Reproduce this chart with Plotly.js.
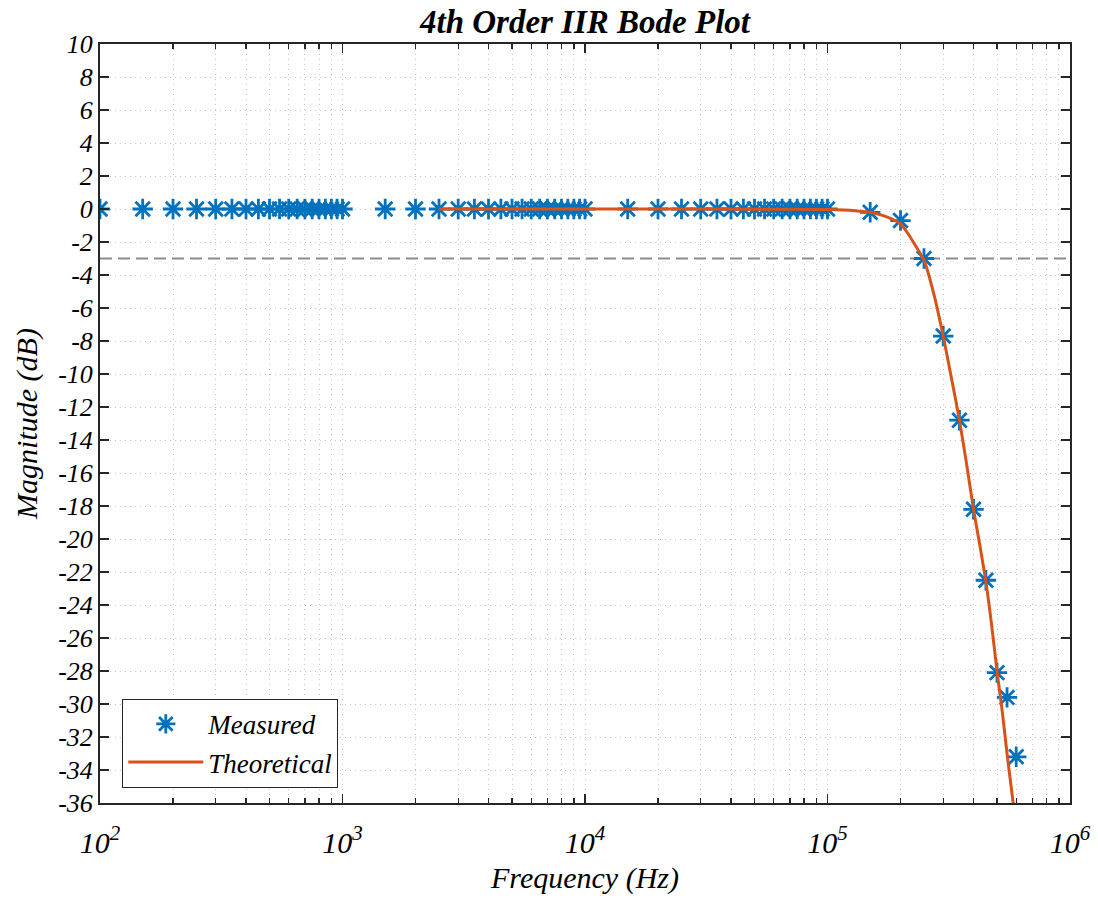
<!DOCTYPE html>
<html>
<head>
<meta charset="utf-8">
<script src="https://cdn.plot.ly/plotly-3.0.1.min.js"></script>
<style>html,body{margin:0;padding:0;background:#fff;}#chart{width:1098px;height:903px;}</style>
</head>
<body>
<div id="chart"></div>
<script>
// ---- Data ----
const measuredFreq = [
  100,150,200,250,300,350,400,450,500,550,600,650,700,750,800,850,900,950,1000,
  1500,2000,2500,3000,3500,4000,4500,5000,5500,6000,6500,7000,7500,8000,8500,9000,9500,10000,
  15000,20000,25000,30000,35000,40000,45000,50000,55000,60000,65000,70000,75000,80000,85000,90000,95000,100000,
  150000,200000,250000,300000,350000,400000,450000,500000,550000,600000
];
const measuredMag = [
  0,0,0,0,0,0,0,0,0,0,0,0,0,0,0,0,0,0,0,
  0,0,0,0,0,0,0,0,0,0,0,0,0,0,0,0,0,0,
  0,0,0,0,0,0,0,0,0,0,0,0,0,0,0,0,0,0,
  -0.2,-0.7,-3.0,-7.7,-12.8,-18.2,-22.5,-28.1,-29.6,-33.2
];
const theoFreq = [2500,5000,10000,20000,50000,100000,130000,150000,170000,190000,200000,215000,230000,250000,275000,300000,325000,350000,375000,400000,425000,450000,475000,500000,525000,550000,575000,590000];
const theoMag  = [0,0,0,0,-0.01,-0.03,-0.1,-0.2,-0.4,-0.7,-0.9,-1.5,-2.2,-3.1,-5.2,-7.7,-10.3,-12.8,-15.5,-18.2,-20.4,-22.6,-25.2,-28.0,-30.4,-33.0,-35.3,-36.6];
const cutoffDb = [-3];
const xTickVals = [100,1000,10000,100000,1000000];
const xTickText = ['10<sup>2</sup>','10<sup>3</sup>','10<sup>4</sup>','10<sup>5</sup>','10<sup>6</sup>'];
const minorMult = [2,3,4,5,6,7,8,9];
const yTickVals = [10,8,6,4,2,0,-2,-4,-6,-8,-10,-12,-14,-16,-18,-20,-22,-24,-26,-28,-30,-32,-34,-36];
const yRange = [-36,10];
const xRangeDecades = [2,6];
const seriesNames = ['Measured','Theoretical'];
const title = '4th Order IIR Bode Plot';
const xTitle = 'Frequency (Hz)';
const yTitle = 'Magnitude (dB)';

// ---- Build ----
const minorVals = [];
for (const d of [100,1000,10000,100000]) for (const m of minorMult) minorVals.push(d*m);
const FONT = '"Liberation Serif", "Times New Roman", serif';
const axisColor = '#262626';
const gridColor = '#c4c4c4';
const gridDash = '1px,4px';

const traces = [
  {
    x: measuredFreq, y: measuredMag, name: seriesNames[0],
    type: 'scatter', mode: 'markers',
    marker: {symbol: 'asterisk-open', size: 17, color: '#0072BD', line: {color: '#0072BD', width: 2.8}}
  },
  {
    x: theoFreq, y: theoMag, name: seriesNames[1],
    type: 'scatter', mode: 'lines',
    line: {color: '#D95319', width: 3, shape: 'spline', smoothing: 0.6}
  }
];

const layout = {
  width: 1098, height: 903,
  margin: {l: 100, r: 28, t: 44, b: 100},
  paper_bgcolor: '#fff', plot_bgcolor: '#fff',
  font: {family: FONT, color: '#000', style: 'italic'},
  showlegend: true,
  title: {
    text: title, x: 0.5, xref: 'paper', y: 0.976, yref: 'container', yanchor: 'middle',
    font: {family: FONT, size: 33, weight: 'bold', style: 'italic', color: '#000'}
  },
  xaxis: {
    type: 'log', range: xRangeDecades,
    tickmode: 'array', tickvals: xTickVals, ticktext: xTickText,
    ticks: 'inside', ticklen: 9, tickwidth: 1.2, tickcolor: axisColor,
    showline: true, linecolor: axisColor, linewidth: 2, mirror: 'allticks',
    showgrid: true, gridcolor: gridColor, griddash: gridDash, gridwidth: 1,
    zeroline: false,
    ticklabelstandoff: 12,
    tickfont: {family: FONT, size: 30, style: 'italic', color: '#000'},
    minor: {tickmode: 'array', tickvals: minorVals, ticks: 'inside', ticklen: 5, tickcolor: axisColor,
            showgrid: true, gridcolor: gridColor, griddash: gridDash, gridwidth: 1},
    title: {text: xTitle, standoff: 9, font: {family: FONT, size: 30, style: 'italic', color: '#000'}},
    automargin: false
  },
  yaxis: {
    range: yRange,
    tickmode: 'array', tickvals: yTickVals, ticktext: yTickVals.map(v => String(v)),
    ticks: 'inside', ticklen: 9, tickwidth: 1.2, tickcolor: axisColor,
    showline: true, linecolor: axisColor, linewidth: 2, mirror: 'allticks',
    showgrid: true, gridcolor: gridColor, griddash: gridDash, gridwidth: 1,
    zeroline: false,
    tickfont: {family: FONT, size: 26, style: 'italic', color: '#000'},
    title: {text: yTitle, standoff: 12, font: {family: FONT, size: 30, style: 'italic', color: '#000'}},
    automargin: false
  },
  shapes: cutoffDb.map(v => ({
    type: 'line', xref: 'paper', x0: 0, x1: 1, yref: 'y', y0: v, y1: v,
    line: {color: '#8c8c8c', width: 2, dash: '12px,6px'}, layer: 'below'
  })),
  legend: {
    x: 0.023, y: 0.02, xanchor: 'left', yanchor: 'bottom',
    bgcolor: '#fff', bordercolor: axisColor, borderwidth: 1,
    font: {family: FONT, size: 27, style: 'italic', color: '#000'},
    itemwidth: 75, tracegroupgap: 0
  }
};

Plotly.newPlot('chart', traces, layout, {displayModeBar: false, staticPlot: true});
</script>
</body>
</html>
